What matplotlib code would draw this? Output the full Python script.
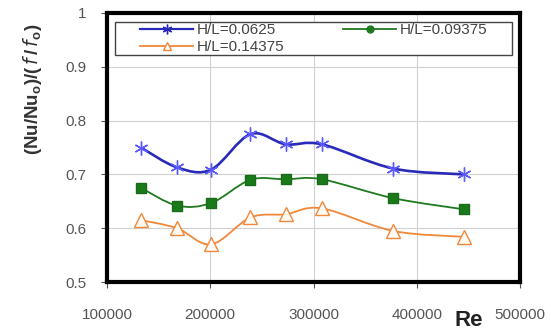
import numpy as np
import matplotlib
matplotlib.use("Agg")
import matplotlib.pyplot as plt
from matplotlib.path import Path
from matplotlib.patches import PathPatch, Rectangle

re_vals = [133000, 168000, 201000, 239000, 273000, 308000, 377000, 446000]
hl_00625 = [0.750, 0.713, 0.709, 0.775, 0.756, 0.756, 0.711, 0.700]
hl_009375 = [0.675, 0.642, 0.647, 0.690, 0.691, 0.691, 0.656, 0.635]
hl_014375 = [0.615, 0.600, 0.570, 0.620, 0.626, 0.637, 0.595, 0.584]
labels = ["H/L=0.0625", "H/L=0.09375", "H/L=0.14375"]
xticks = [100000, 200000, 300000, 400000, 500000]
yticks = [0.5, 0.6, 0.7, 0.8, 0.9, 1.0]
yticklabels = ["0.5", "0.6", "0.7", "0.8", "0.9", "1"]

plt.rcParams['font.family'] = ['Liberation Sans', 'DejaVu Sans']

fig = plt.figure(figsize=(5.51, 3.33), dpi=100)
ax = fig.add_axes([0.194, 0.153, 0.750, 0.808])


def smooth_patch(ax, xs, ys, color, lw):
    # Excel-style smoothed line: cubic Bezier segments (Catmull-Rom tangents)
    pts = np.column_stack([xs, ys]).astype(float)
    trans = ax.transData
    disp = trans.transform(pts)
    n = len(disp)
    verts = [disp[0]]
    codes = [Path.MOVETO]
    t = 1.0 / 6.0
    for i in range(n - 1):
        p0 = disp[i - 1] if i > 0 else disp[i]
        p1 = disp[i]
        p2 = disp[i + 1]
        p3 = disp[i + 2] if i + 2 < n else disp[i + 1]
        c1 = p1 + (p2 - p0) * t
        c2 = p2 - (p3 - p1) * t
        verts += [c1, c2, p2]
        codes += [Path.CURVE4] * 3
    inv = trans.inverted()
    verts = inv.transform(np.array(verts))
    patch = PathPatch(Path(verts, codes), facecolor='none', edgecolor=color,
                      lw=lw, zorder=3)
    ax.add_patch(patch)


ax.set_xlim(100000, 500000)
ax.set_ylim(0.5, 1.0)

blue = '#2a2ab8'
green = '#1f7a1f'
orange = '#f0883a'

smooth_patch(ax, re_vals, hl_00625, blue, 1.9)
smooth_patch(ax, re_vals, hl_009375, green, 1.3)
smooth_patch(ax, re_vals, hl_014375, orange, 1.3)

asterisk = (6, 2, 0)
ax.plot(re_vals, hl_00625, linestyle='None', marker=asterisk, markersize=10,
        markeredgecolor='#5a5aff', markeredgewidth=1.0, zorder=4)
ax.plot(re_vals, hl_009375, linestyle='None', marker='s', markersize=7,
        markerfacecolor='#1a7a1a', markeredgecolor='#1a6a1a', zorder=4)
ax.plot(re_vals, hl_014375, linestyle='None', marker='^', markersize=10,
        markerfacecolor='#fffaf4', markeredgecolor=orange, markeredgewidth=1.0,
        zorder=4)

# legend box
ax.add_patch(Rectangle((0.019, 0.844), 0.962, 0.123, transform=ax.transAxes,
                       facecolor='white', edgecolor='#444444', lw=1.0,
                       zorder=5))

# legend proxies with lines
l1, = ax.plot([], [], color=blue, lw=1.6, marker=asterisk, markersize=7,
              markeredgecolor=blue)
l2, = ax.plot([], [], color=green, lw=1.3, marker='o', markersize=5,
              markerfacecolor=green, markeredgecolor=green)
l3, = ax.plot([], [], color=orange, lw=1.3, marker='^', markersize=6,
              markerfacecolor='white', markeredgecolor=orange)
leg = ax.legend([l1, l3, l2], [labels[0], labels[2], labels[1]], ncol=2,
                loc='upper left', bbox_to_anchor=(0.080, 0.962),
                borderaxespad=0, frameon=False, fontsize=11,
                handlelength=3.5, handletextpad=0.25, labelspacing=0.2,
                borderpad=0.0, columnspacing=3.8)
leg.set_zorder(6)
for t in leg.get_texts():
    t.set_color('#444444')

ax.set_xticks(xticks)
ax.set_xticklabels([str(v) for v in xticks])
ax.set_yticks(yticks)
ax.set_yticklabels(yticklabels)
ax.grid(True, color='#d0d0d0', lw=0.8)
ax.set_axisbelow(True)
for s in ax.spines.values():
    s.set_linewidth(3.0)
    s.set_color('black')
ax.tick_params(axis='both', colors='#555555', labelsize=11, length=4,
               width=0.8, direction='out')
ax.tick_params(axis='x', pad=15)
ax.tick_params(axis='y', pad=11)
for lab in ax.get_xticklabels() + ax.get_yticklabels():
    lab.set_color('#555555')

fig.text(32 / 551, 1 - 89 / 333,
         r'(Nu/Nu$_\mathregular{o}$)/($\,\mathit{f}\,$/$\,\mathit{f}_\mathregular{o}$)',
         fontsize=13.5, fontweight='bold', color='#333333', rotation=90,
         ha='center', va='center')
fig.text(469 / 551, 1 - 321 / 333, 'Re', fontsize=16, fontweight='bold',
         color='#222222', ha='center', va='center')

fig.savefig('out.png', dpi=100, facecolor='white')
